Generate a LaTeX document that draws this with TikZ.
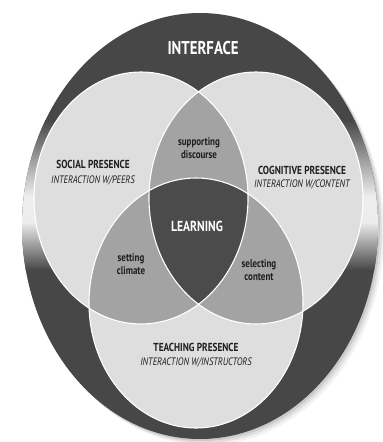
\documentclass[tikz,border=0pt]{standalone}
\usepackage{fontspec}
\setmainfont[FakeStretch=0.8]{PT Sans}
\usepackage{tikz}

\definecolor{ringgray}{HTML}{474747}
\definecolor{ringlight}{HTML}{EDEDED}
\definecolor{circlegray}{HTML}{DEDEDE}
\definecolor{lensgray}{HTML}{A3A3A3}
\definecolor{coregray}{HTML}{4B4B4B}
\definecolor{inkgray}{HTML}{1E1E1E}

\def\ringpath{(200,226) ellipse [x radius=178, y radius=213]}
\def\socialpath{(141,198) ellipse [x radius=107, y radius=126]}
\def\cognitivepath{(256,198) ellipse [x radius=107, y radius=126]}
\def\teachingpath{(196,303) ellipse [x radius=107, y radius=125]}

\begin{document}
\begin{tikzpicture}[x=1pt,y=-1pt,
    presence/.style={fill=circlegray},
    rim/.style={draw=white,line width=1.1pt},
    title/.style={font=\bfseries\fontsize{11.6}{12}\selectfont,text=inkgray,inner sep=0pt},
    sub/.style={font=\itshape\fontsize{10.8}{12}\selectfont,text=inkgray,inner sep=0pt},
    overlap/.style={font=\bfseries\fontsize{11.2}{13}\selectfont,text=inkgray,align=center,inner sep=0pt}]
    \useasboundingbox (0,0) rectangle (383,442);
    \fill[white] (0,0) rectangle (383,442);
    % soft shadow
    \foreach \d/\o in {6/0.05,4/0.07,2/0.09}{
        \fill[black,opacity=\o] (200+\d,226+\d) ellipse [x radius=178, y radius=213];
    }
    % interface ring with metallic band
    \begin{scope}
        \clip \ringpath;
        \fill[ringgray] (0,0) rectangle (383,442);
        \shade[top color=ringgray,bottom color=ringlight] (0,120) rectangle (383,196);
        \fill[ringlight] (0,196) rectangle (383,222);
        \shade[top color=ringlight,bottom color=ringgray] (0,222) rectangle (383,270);
    \end{scope}
    % the three presences
    \fill[presence] \socialpath;
    \fill[presence] \cognitivepath;
    \fill[presence] \teachingpath;
    \begin{scope}
        \clip \socialpath;
        \fill[lensgray] \cognitivepath;
        \fill[lensgray] \teachingpath;
    \end{scope}
    \begin{scope}
        \clip \cognitivepath;
        \fill[lensgray] \teachingpath;
    \end{scope}
    \begin{scope}
        \clip \socialpath;
        \clip \cognitivepath;
        \fill[coregray] \teachingpath;
    \end{scope}
    \draw[rim] \socialpath;
    \draw[rim] \cognitivepath;
    \draw[rim] \teachingpath;
    % labels
    \node[font=\bfseries\fontsize{18.5}{19}\selectfont,text=white] (interface) at (203,48) {INTERFACE};
    \node[title] (social) at (93,164) {SOCIAL PRESENCE};
    \node[sub] (socialsub) at (93,180) {INTERACTION W/PEERS};
    \node[title] (cognitive) at (302,170) {COGNITIVE PRESENCE};
    \node[sub] (cognitivesub) at (302,184) {INTERACTION W/CONTENT};
    \node[title] (teaching) at (196,347) {TEACHING PRESENCE};
    \node[sub] (teachingsub) at (196,362) {INTERACTION W/INSTRUCTORS};
    \node[overlap] (discourse) at (199,148) {supporting\\discourse};
    \node[overlap] (climate) at (131,264) {setting\\climate};
    \node[overlap] (content) at (259,270) {selecting\\content};
    \node[font=\bfseries\fontsize{14.5}{15}\selectfont,text=white] (learning) at (197,226) {LEARNING};
\end{tikzpicture}
\end{document}
